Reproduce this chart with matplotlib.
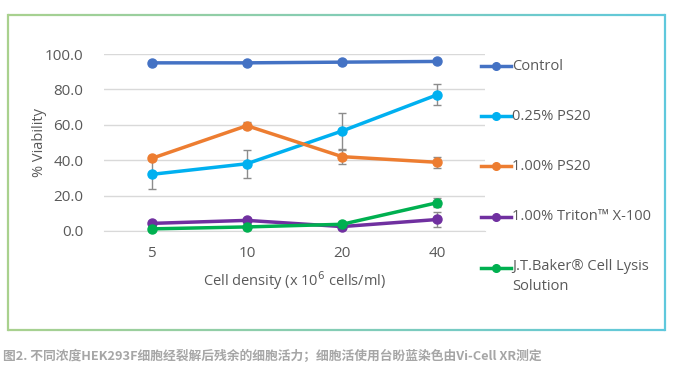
import matplotlib
matplotlib.use("Agg")
import matplotlib.pyplot as plt
import numpy as np
from matplotlib.lines import Line2D
from matplotlib.colors import to_rgb

plt.rcParams['font.family'] = ['Open Sans', 'Noto Sans CJK SC', 'DejaVu Sans']

categories = ["5", "10", "20", "40"]
series_names = ["Control", "0.25% PS20", "1.00% PS20", "1.00% Triton\u2122 X-100",
                "J.T.Baker\u00ae Cell Lysis\nSolution"]
control = [95.0, 95.0, 95.4, 95.8]
ps20_025 = [32.0, 38.0, 56.5, 77.0]
ps20_025_err = [8.0, 8.0, 10.0, 6.0]
ps20_100 = [41.0, 59.5, 42.0, 38.8]
ps20_100_err = [0.0, 2.0, 4.0, 3.0]
triton = [4.3, 6.0, 2.5, 6.5]
triton_err = [0.0, 0.0, 0.0, 4.0]
jtbaker = [1.2, 2.3, 3.8, 16.0]
jtbaker_err = [0.0, 0.0, 0.0, 2.5]
yticks = [0, 20, 40, 60, 80, 100]

colors = ["#4472C4", "#00B0F0", "#ED7D31", "#7030A0", "#00B050"]
values = [control, ps20_025, ps20_100, triton, jtbaker]
errs = [None, ps20_025_err, ps20_100_err, triton_err, jtbaker_err]

W, H = 678, 375
fig = plt.figure(figsize=(W/100, H/100), dpi=100)
ax = fig.add_axes([104/W, 1-231/H, (485-104)/W, (231-54)/H])
x = np.arange(len(categories))
for vals, err, c, name in zip(values, errs, colors, series_names):
    if err is not None:
        ax.errorbar(x, vals, yerr=err, fmt='none', ecolor='#8c8c8c', elinewidth=1,
                    capsize=3, capthick=1, zorder=2, clip_on=False)
    ax.plot(x, vals, color=c, lw=2.5, marker='o', ms=6.5, label=name, zorder=3, clip_on=False)

ax.set_xlim(-0.5, 3.5)
ax.set_ylim(0, 100)
ax.set_yticks(yticks)
ax.set_yticklabels([f"{v:.1f}" for v in yticks])
ax.set_xticks(x)
ax.set_xticklabels(categories)
ax.grid(axis='y', color='#d9d9d9', lw=1)
ax.set_axisbelow(True)
for s in ['top', 'right', 'left']:
    ax.spines[s].set_visible(False)
ax.spines['bottom'].set_color('#d9d9d9')
ax.tick_params(length=0, labelsize=11, colors='#595959')
ax.tick_params(axis='x', pad=11)
ax.tick_params(axis='y', pad=15)
ax.set_ylabel("% Viability", fontsize=10.5, color='#595959', labelpad=-2)
ax.set_xlabel("Cell density (x 10$^{6}$ cells/ml)", fontsize=10.5, color='#595959', labelpad=6)

# legend
handles, labels = ax.get_legend_handles_labels()
leg_y = [66, 116, 166, 217, 268]
for h, lab, yy, c in zip(handles, labels, leg_y, colors):
    fy = 1 - yy/H
    fig.add_artist(Line2D([481/W, 511/W], [fy, fy], color=c, lw=2.5))
    fig.add_artist(Line2D([496/W], [fy], color=c, marker='o', ms=5.5))
    if '\n' in lab:
        fig.text(512/W, fy + 9/H, lab, fontsize=10.5, color='#595959', va='top', ha='left',
                 linespacing=1.45)
    else:
        fig.text(512/W, fy, lab, fontsize=10.5, color='#595959', va='center', ha='left')

# gradient border
x0, x1, y0, y1 = 7.5, 664.5, 14.5, 330
cL = np.array(to_rgb("#a9d18e"))
cR = np.array(to_rgb("#5fc8dc"))
n = 120
xs = np.linspace(x0, x1, n + 1)
for i in range(n):
    t = (i + 0.5) / n
    col = cL * (1 - t) + cR * t
    for yy in (y0, y1):
        fig.add_artist(Line2D([xs[i]/W, xs[i+1]/W], [1-yy/H, 1-yy/H], color=col, lw=1.6,
                              solid_capstyle='butt'))
fig.add_artist(Line2D([x0/W, x0/W], [1-y0/H, 1-y1/H], color=cL, lw=1.6))
fig.add_artist(Line2D([x1/W, x1/W], [1-y0/H, 1-y1/H], color=cR, lw=1.6))

fig.text(3/W, 1-356/H,
         "图2. 不同浓度HEK293F细胞经裂解后残余的细胞活力；细胞活使用台盼蓝染色由Vi-Cell XR测定",
         fontsize=9.2, color='#a6a6a6', fontweight='bold', va='center', ha='left',
         family=['Noto Sans CJK SC', 'DejaVu Sans'])

fig.savefig("out.png", dpi=100)
